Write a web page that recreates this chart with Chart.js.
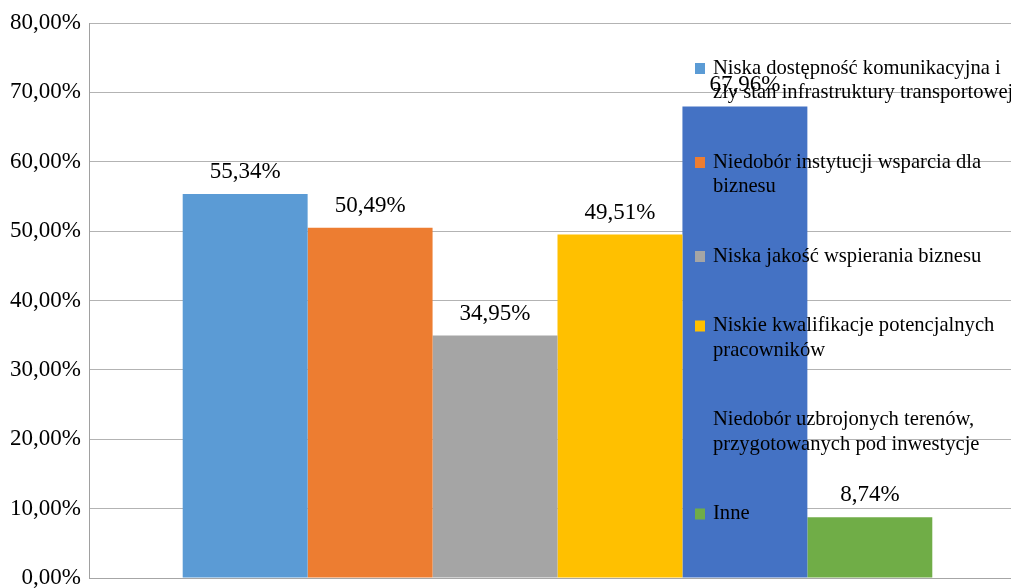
<!DOCTYPE html>
<html>
<head>
<meta charset="utf-8">
<script src="https://cdn.jsdelivr.net/npm/chart.js"></script>
<style>
  html, body { margin: 0; padding: 0; background: #fff; overflow: hidden; }
  #wrap { width: 1040px; height: 588px; }
</style>
</head>
<body>
<div id="wrap"><canvas id="chart"></canvas></div>
<script>
const categories = [''];
const seriesNames = [
  ['Niska dostępność komunikacyjna i', 'zły stan infrastruktury transportowej'],
  ['Niedobór instytucji wsparcia dla', 'biznesu'],
  ['Niska jakość wspierania biznesu'],
  ['Niskie kwalifikacje potencjalnych', 'pracowników'],
  ['Niedobór uzbrojonych terenów,', 'przygotowanych pod inwestycje'],
  ['Inne']
];
const seriesValues = [55.34, 50.49, 34.95, 49.51, 67.96, 8.74];
const seriesColors = ['#5B9BD5', '#ED7D31', '#A5A5A5', '#FFC000', '#4472C4', '#70AD47'];
const yMax = 80;
const yStep = 10;

const serif = '"Liberation Serif", "Times New Roman", serif';
const fmt = v => v.toFixed(2).replace('.', ',') + '%';

// value labels above each bar
const barLabels = {
  id: 'barLabels',
  afterDatasetsDraw(chart) {
    const ctx = chart.ctx;
    ctx.save();
    ctx.font = '23px ' + serif;
    ctx.fillStyle = '#000';
    ctx.textAlign = 'center';
    ctx.textBaseline = 'middle';
    chart.data.datasets.forEach((ds, i) => {
      chart.getDatasetMeta(i).data.forEach((bar, j) => {
        ctx.fillText(fmt(ds.data[j]), bar.x, bar.y - 22);
      });
    });
    ctx.restore();
  }
};

// legend drawn over the plot area, like the original
const overlayLegend = {
  id: 'overlayLegend',
  afterDraw(chart) {
    const ctx = chart.ctx;
    const lineH = 24.5, gap = 45;
    let y = 68.5;
    ctx.save();
    ctx.font = '20.6px ' + serif;
    ctx.textBaseline = 'middle';
    ctx.textAlign = 'left';
    chart.data.datasets.forEach((ds, i) => {
      ctx.fillStyle = ds.backgroundColor;
      ctx.fillRect(695, y - 5.5, 10, 11);
      ctx.fillStyle = '#000';
      ds.lines.forEach((t, k) => ctx.fillText(t, 713, y + k * lineH));
      y += ds.lines.length * lineH + gap;
    });
    ctx.restore();
  }
};

new Chart(document.getElementById('chart'), {
  type: 'bar',
  data: {
    labels: categories,
    datasets: seriesNames.map((n, i) => ({
      label: n.join(' '),
      lines: n,
      data: [seriesValues[i]],
      backgroundColor: seriesColors[i],
      borderWidth: 0
    }))
  },
  options: {
    responsive: true,
    maintainAspectRatio: false,
    animation: false,
    categoryPercentage: 0.8,
    barPercentage: 1,
    layout: { padding: { top: 23, bottom: 10, right: 14, left: 0 } },
    plugins: {
      legend: { display: false },
      tooltip: { enabled: false }
    },
    scales: {
      x: {
        grid: { display: false },
        border: { display: true, color: '#a6a6a6', width: 1 },
        ticks: { display: false },
        afterFit(scale) {
          scale.height = 0;
          scale.paddingLeft = 0;
          scale.paddingRight = 0;
        }
      },
      y: {
        min: 0,
        max: yMax,
        ticks: {
          stepSize: yStep,
          padding: 8,
          color: '#000',
          font: { family: serif, size: 23 },
          callback: v => fmt(v)
        },
        grid: { color: '#b3b3b3', drawTicks: false },
        border: { display: true, color: '#a0a0a0', width: 1 },
        afterFit(scale) {
          scale.width = 89;
          scale.paddingTop = 0;
          scale.paddingBottom = 0;
        }
      }
    }
  },
  plugins: [barLabels, overlayLegend]
});
</script>
</body>
</html>
